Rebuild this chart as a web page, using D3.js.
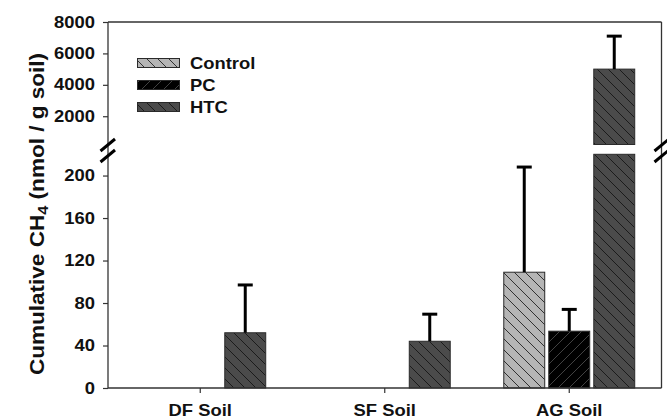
<!DOCTYPE html>
<html>
<head>
<meta charset="utf-8">
<script src="https://cdn.jsdelivr.net/npm/d3@7"></script>
<style>
  html, body { margin: 0; padding: 0; background: #fff; }
  svg { display: block; }
  text { font-family: "Liberation Sans", Arial, sans-serif; font-weight: bold; fill: #111; }
</style>
</head>
<body>
<svg id="chart" width="667" height="420"></svg>
<script>
// ---- data ----
const categories = ["DF Soil", "SF Soil", "AG Soil"];
const series = ["Control", "PC", "HTC"];
const controlValues = [null, null, 109];
const controlErrors = [null, null, 99];
const pcValues = [null, null, 53.5];
const pcErrors = [null, null, 20.5];
const htcValues = [52, 44, 5000];
const htcErrors = [45, 25.5, 2100];
const lowerTicks = [0, 40, 80, 120, 160, 200];
const upperTicks = [2000, 4000, 6000, 8000];
const yTitle = ["Cumulative CH", "4", " (nmol / g soil)"];

const seriesData = {
  Control: { values: controlValues, errors: controlErrors },
  PC: { values: pcValues, errors: pcErrors },
  HTC: { values: htcValues, errors: htcErrors }
};

// ---- layout ----
const svg = d3.select("#chart");
const pLeft = 108, pRight = 661.5, pTop = 22, pBottom = 388;
const upperBottom = 144.5, lowerTop = 154.3;
const stretchX = 1.15;

const x0 = d3.scaleBand().domain(categories).range([pLeft, pRight]).paddingInner(0).paddingOuter(0);
const x1 = d3.scaleBand().domain(series).range([-67.5, 67.5]).paddingInner(0.09).paddingOuter(0.045);
const yLow = d3.scaleLinear().domain([0, 220]).range([pBottom, lowerTop]);
const yUp = d3.scaleLinear().domain([200, 8000]).range([upperBottom, pTop]);
const lowMax = 220;

function stretch(sel, s) {
  sel.each(function () {
    const el = d3.select(this);
    const x = +el.attr("x") || 0;
    el.attr("transform", `translate(${x},0) scale(${s},1) translate(${-x},0)`);
  });
}

// ---- patterns ----
const defs = svg.append("defs");
function hatch(id, bg, line, dir) {
  const p = defs.append("pattern").attr("id", id).attr("patternUnits", "userSpaceOnUse")
    .attr("width", 11).attr("height", 11);
  p.append("rect").attr("width", 11).attr("height", 11).attr("fill", bg);
  const d = dir === "back"
    ? "M-1,-1 L12,12 M-6,5 L6,17 M5,-6 L17,6"
    : "M-1,12 L12,-1 M-6,6 L6,-6 M5,17 L17,5";
  p.append("path").attr("d", d).attr("stroke", line).attr("stroke-width", 0.9);
}
hatch("pControl", "#b5b5b5", "#222", "back");
hatch("pPC", "#000000", "#4a4a4a", "fwd");
hatch("pHTC", "#4b4b4b", "#151515", "back");
const fills = { Control: "url(#pControl)", PC: "url(#pPC)", HTC: "url(#pHTC)" };

// ---- bars ----
const barG = svg.append("g");
series.forEach(s => {
  const sd = seriesData[s];
  categories.forEach((c, i) => {
    const v = sd.values[i];
    if (v == null) return;
    const xb = x0(c) + x0.bandwidth() / 2 + x1(s);
    const w = x1.bandwidth();
    const yl = yLow(Math.min(v, lowMax));
    barG.append("rect").attr("x", xb).attr("y", yl).attr("width", w).attr("height", pBottom - yl)
      .attr("fill", fills[s]).attr("stroke", "#2a2a2a").attr("stroke-width", 1);
    if (v > lowMax) {
      const yu = yUp(v);
      barG.append("rect").attr("x", xb).attr("y", yu).attr("width", w).attr("height", upperBottom - yu)
        .attr("fill", fills[s]).attr("stroke", "#2a2a2a").attr("stroke-width", 1);
    }
    const e = sd.errors[i];
    if (e != null) {
      const topV = v + e;
      const ys = topV > lowMax ? yUp(topV) : yLow(topV);
      const y0 = v > lowMax ? yUp(v) : yLow(v);
      const cx = xb + w / 2;
      barG.append("line").attr("x1", cx).attr("x2", cx).attr("y1", y0).attr("y2", ys)
        .attr("stroke", "#000").attr("stroke-width", 3);
      barG.append("line").attr("x1", cx - 7.5).attr("x2", cx + 7.5).attr("y1", ys).attr("y2", ys)
        .attr("stroke", "#000").attr("stroke-width", 3);
    }
  });
});

// ---- frame / axes ----
const axisG = svg.append("g").attr("stroke", "#333").attr("stroke-width", 1.3).attr("fill", "none");
axisG.append("line").attr("x1", pLeft).attr("x2", pRight).attr("y1", pTop).attr("y2", pTop);
axisG.append("line").attr("x1", pLeft).attr("x2", pRight).attr("y1", pBottom).attr("y2", pBottom);
axisG.append("line").attr("x1", pLeft).attr("x2", pLeft).attr("y1", pTop).attr("y2", pBottom);
axisG.append("line").attr("x1", pRight).attr("x2", pRight).attr("y1", pTop).attr("y2", pBottom);

const fmt = d3.format("d");
const axLow = svg.append("g").attr("transform", `translate(${pLeft},0)`)
  .call(d3.axisLeft(yLow).tickValues(lowerTicks).tickFormat(fmt).tickSize(5).tickPadding(8));
const axUp = svg.append("g").attr("transform", `translate(${pLeft},0)`)
  .call(d3.axisLeft(yUp).tickValues(upperTicks).tickFormat(fmt).tickSize(5).tickPadding(8));
const axX = svg.append("g").attr("transform", `translate(0,${pBottom})`)
  .call(d3.axisBottom(x0).tickSize(5).tickPadding(12));
[axLow, axUp, axX].forEach(a => {
  a.select(".domain").remove();
  a.selectAll(".tick line").attr("stroke", "#333").attr("stroke-width", 1.2);
  a.selectAll(".tick text").attr("font-size", 16).attr("font-family", "Liberation Sans, Arial, sans-serif")
    .attr("font-weight", "bold").attr("fill", "#111");
  stretch(a.selectAll(".tick text"), stretchX);
});
axX.selectAll(".tick text").attr("y", 28).attr("dy", 0);

// ---- axis breaks ----
function breakMarks(cx) {
  const g = svg.append("g");
  [-6, 5].forEach(dy => {
    g.append("line").attr("x1", cx - 7.5).attr("y1", 151 + dy + 6).attr("x2", cx + 7).attr("y2", 151 + dy - 6)
      .attr("stroke", "#000").attr("stroke-width", 3);
  });
}
breakMarks(pLeft);
breakMarks(pRight + 0.5);

// ---- legend ----
const leg = svg.append("g");
series.forEach((s, i) => {
  const cy = 63 + i * 22;
  leg.append("rect").attr("x", 137.5).attr("y", cy - 4.5).attr("width", 42).attr("height", 9)
    .attr("fill", fills[s]).attr("stroke", "#2a2a2a").attr("stroke-width", 1);
  const tx = leg.append("text").attr("x", 190).attr("y", cy).attr("dy", "0.36em").attr("font-size", 16).text(s);
  stretch(tx, stretchX);
});

// ---- y title ----
const t = svg.append("text").attr("transform", "translate(44,214) rotate(-90) scale(1.1,1)")
  .attr("text-anchor", "middle").attr("font-size", 20.5);
t.append("tspan").text(yTitle[0]);
t.append("tspan").attr("baseline-shift", "-25%").attr("font-size", 15).text(yTitle[1]);
t.append("tspan").text(yTitle[2]);
</script>
</body>
</html>
